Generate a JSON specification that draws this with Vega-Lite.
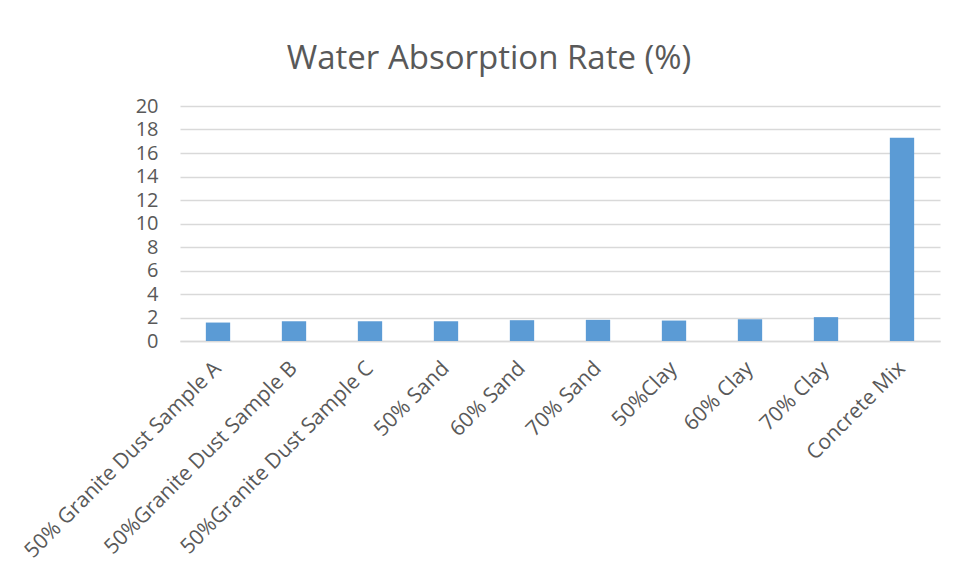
{
  "$schema": "https://vega.github.io/schema/vega-lite/v6.json",
  "autosize": "none",
  "width": 760,
  "height": 235,
  "padding": {"left": 180, "top": 106, "right": 16, "bottom": 239},
  "background": "white",
  "title": {
    "text": "Water Absorption Rate (%)",
    "font": "Open Sans",
    "fontSize": 33,
    "fontWeight": "normal",
    "color": "#595959",
    "anchor": "middle",
    "frame": "group",
    "baseline": "alphabetic",
    "offset": 41,
    "dx": -71,
    "dy": 47
  },
  "data": {
    "values": [
      {"sample": "50% Granite Dust Sample A", "rate": 1.57},
      {"sample": "50%Granite Dust Sample B", "rate": 1.68},
      {"sample": "50%Granite Dust Sample C", "rate": 1.68},
      {"sample": "50% Sand", "rate": 1.68},
      {"sample": "60% Sand", "rate": 1.77},
      {"sample": "70% Sand", "rate": 1.8},
      {"sample": "50%Clay", "rate": 1.74},
      {"sample": "60% Clay", "rate": 1.85},
      {"sample": "70% Clay", "rate": 2.03},
      {"sample": "Concrete Mix", "rate": 17.29}
    ]
  },
  "mark": {"type": "bar", "color": "#5b9bd5"},
  "encoding": {
    "x": {
      "field": "sample",
      "type": "nominal",
      "sort": null,
      "scale": {"paddingInner": 0.68, "paddingOuter": 0.34},
      "axis": {
        "title": null,
        "labelAngle": -45,
        "labelAlign": "right",
        "labelBaseline": "middle",
        "labelPadding": 24,
        "labelFont": "Open Sans",
        "labelFontSize": 21,
        "labelColor": "#595959",
        "labelLimit": 500,
        "ticks": false,
        "domainColor": "#d9d9d9",
        "domainWidth": 1.5,
        "grid": false
      }
    },
    "y": {
      "field": "rate",
      "type": "quantitative",
      "scale": {"domain": [0, 20], "nice": false},
      "axis": {
        "title": null,
        "values": [0, 2, 4, 6, 8, 10, 12, 14, 16, 18, 20],
        "domain": false,
        "ticks": false,
        "labelPadding": 22,
        "labelFont": "Open Sans",
        "labelFontSize": 20,
        "labelColor": "#595959",
        "gridColor": "#d9d9d9",
        "gridWidth": 1.5
      }
    }
  },
  "config": {"view": {"stroke": null}}
}
